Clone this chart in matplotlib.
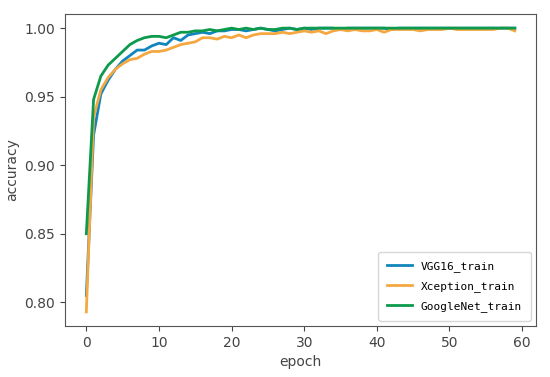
import matplotlib
matplotlib.use("Agg")
import matplotlib.pyplot as plt
import numpy as np

epochs = list(range(60))

vgg16_train = [0.805, 0.922, 0.952, 0.962, 0.970, 0.976, 0.980, 0.984, 0.984, 0.987,
               0.989, 0.988, 0.993, 0.991, 0.995, 0.996, 0.997, 0.996, 0.998, 0.998,
               0.999, 0.999, 0.998, 0.999, 1.000, 0.999, 0.998, 0.999, 1.000, 0.999,
               1.000, 0.999, 1.000, 1.000, 1.000, 0.999, 1.000, 1.000, 1.000, 1.000,
               1.000, 1.000, 0.999, 1.000, 1.000, 1.000, 1.000, 1.000, 1.000, 1.000,
               1.000, 1.000, 1.000, 1.000, 1.000, 1.000, 1.000, 1.000, 1.000, 1.000]

xception_train = [0.793, 0.935, 0.955, 0.964, 0.970, 0.974, 0.977, 0.978, 0.981, 0.983,
                  0.983, 0.984, 0.986, 0.988, 0.989, 0.990, 0.993, 0.993, 0.992, 0.994,
                  0.993, 0.995, 0.993, 0.995, 0.996, 0.996, 0.996, 0.997, 0.996, 0.997,
                  0.998, 0.997, 0.998, 0.996, 0.998, 0.999, 0.998, 0.999, 0.998, 0.998,
                  0.999, 0.997, 0.999, 0.999, 0.999, 0.999, 0.998, 0.999, 0.999, 0.999,
                  1.000, 0.999, 0.999, 0.999, 0.999, 0.999, 0.999, 1.000, 1.000, 0.998]

googlenet_train = [0.850, 0.948, 0.965, 0.973, 0.978, 0.983, 0.988, 0.991, 0.993, 0.994,
                   0.994, 0.993, 0.995, 0.997, 0.997, 0.998, 0.998, 0.999, 0.998, 0.999,
                   1.000, 0.999, 1.000, 0.999, 1.000, 0.999, 0.999, 1.000, 1.000, 0.999,
                   1.000, 1.000, 1.000, 1.000, 1.000, 1.000, 1.000, 1.000, 1.000, 1.000,
                   1.000, 1.000, 1.000, 1.000, 1.000, 1.000, 1.000, 1.000, 1.000, 1.000,
                   1.000, 1.000, 1.000, 1.000, 1.000, 1.000, 1.000, 1.000, 1.000, 1.000]

fig = plt.figure(figsize=(5.5, 3.77), dpi=100)
ax = fig.add_axes([0.118, 0.135, 0.857, 0.828])

txt = "#444444"
ax.plot(epochs, vgg16_train, color="#1086bd", lw=2, label="VGG16_train")
ax.plot(epochs, xception_train, color="#f5a741", lw=2, label="Xception_train")
ax.plot(epochs, googlenet_train, color="#0d9a4c", lw=2, label="GoogleNet_train")

ax.set_xlabel("epoch", color=txt)
ax.set_ylabel("accuracy", color=txt)
ax.set_xticks([0, 10, 20, 30, 40, 50, 60])
ax.set_yticks([0.80, 0.85, 0.90, 0.95, 1.00])
ax.tick_params(colors=txt, labelcolor=txt)
for s in ax.spines.values():
    s.set_color("#555555")

leg = ax.legend(loc="lower right", prop={"family": "DejaVu Sans Mono", "size": 8},
                labelspacing=0.8, handlelength=2.2, borderpad=0.8)

fig.savefig("out.png", dpi=100)
